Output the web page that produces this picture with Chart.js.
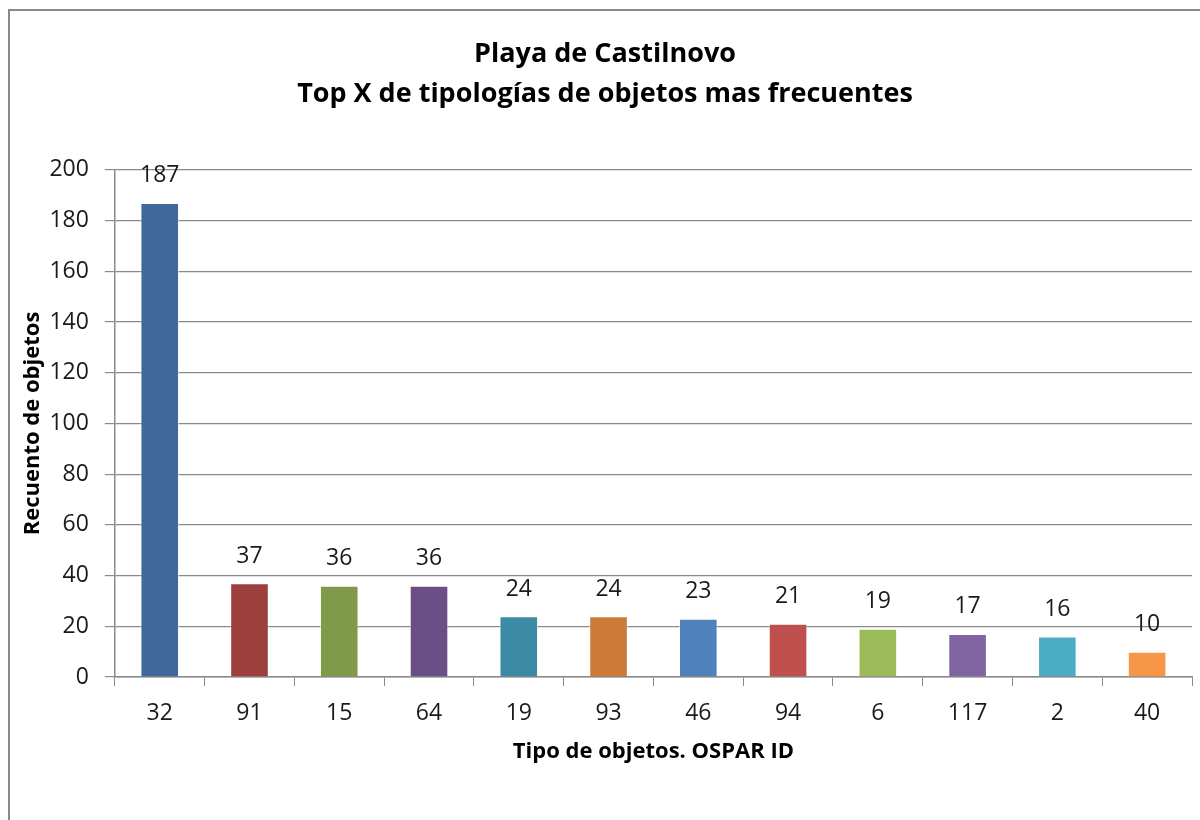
<!DOCTYPE html>
<html>
<head>
<meta charset="utf-8">
<script src="https://cdn.jsdelivr.net/npm/chart.js@4.4.0/dist/chart.umd.min.js"></script>
<style>
  html, body { margin: 0; padding: 0; background: #fff; }
  #wrap { position: relative; width: 1200px; height: 820px; overflow: hidden; }
  #frame { position: absolute; left: 8px; top: 9px; width: 1300px; height: 900px; border: 2px solid #8a8a8a; }
  canvas { position: absolute; left: 0; top: 0; }
</style>
</head>
<body>
<div id="wrap">
  <div id="frame"></div>
  <canvas id="chart" width="1200" height="820"></canvas>
</div>
<script>
// --- DONNÉES ---
const categories = ["32", "91", "15", "64", "19", "93", "46", "94", "6", "117", "2", "40"];
const counts = [187, 37, 36, 36, 24, 24, 23, 21, 19, 17, 16, 10];
const barColors = ["#41689A", "#9C403E", "#7F9A48", "#6A4F86", "#3A8BA3", "#CB7A38",
                   "#4F81BD", "#C0504D", "#9BBB59", "#8064A2", "#4BACC6", "#F79646"];
const yTicks = [0, 20, 40, 60, 80, 100, 120, 140, 160, 180, 200];

const FONT = "'Open Sans', Lato, sans-serif";

// Étiquettes de valeurs au-dessus des barres
const valueLabels = {
  id: "valueLabels",
  afterDatasetsDraw(chart) {
    const { ctx } = chart;
    const meta = chart.getDatasetMeta(0);
    ctx.save();
    ctx.font = `23px ${FONT}`;
    ctx.fillStyle = "#1a1a1a";
    ctx.textAlign = "center";
    ctx.textBaseline = "middle";
    meta.data.forEach((bar, i) => {
      ctx.fillText(String(counts[i]), bar.x, bar.y - 27);
    });
    ctx.restore();
  }
};

new Chart(document.getElementById("chart"), {
  type: "bar",
  data: {
    labels: categories,
    datasets: [{
      data: counts,
      backgroundColor: barColors,
      borderColor: "rgba(255,255,255,0.6)",
      borderWidth: 1,
      barPercentage: 0.43,
      categoryPercentage: 1
    }]
  },
  options: {
    responsive: false,
    animation: false,
    layout: { padding: { left: 18, right: 8, top: 34, bottom: 55 } },
    plugins: {
      legend: { display: false },
      tooltip: { enabled: false },
      title: {
        display: true,
        text: ["Playa de Castilnovo", "Top X de tipologías de objetos mas frecuentes"],
        color: "#000",
        font: { family: FONT, size: 27, weight: "bold", lineHeight: 1.48 },
        padding: { top: 0, bottom: 56 }
      }
    },
    scales: {
      x: {
        offset: true,
        grid: { display: true, offset: true, drawOnChartArea: false, color: "#8a8a8a", tickLength: 9 },
        border: { color: "#8a8a8a", width: 1.5 },
        ticks: { color: "#1a1a1a", font: { family: FONT, size: 23 }, padding: 14 },
        title: {
          display: true, text: "Tipo de objetos. OSPAR ID", color: "#000",
          font: { family: FONT, size: 22, weight: "bold" }, padding: { top: -3, bottom: 0 }
        }
      },
      y: {
        min: 0, max: 200,
        afterBuildTicks(axis) { axis.ticks = yTicks.map(v => ({ value: v })); },
        grid: { color: "#8a8a8a", lineWidth: 1.2, tickLength: 10 },
        border: { color: "#8a8a8a", width: 1.5 },
        ticks: { color: "#1a1a1a", font: { family: FONT, size: 23 }, padding: 16 },
        title: {
          display: true, text: "Recuento de objetos", color: "#000",
          font: { family: FONT, size: 22, weight: "bold" }, padding: { top: 2, bottom: -13 }
        }
      }
    }
  },
  plugins: [valueLabels]
});
</script>
</body>
</html>
